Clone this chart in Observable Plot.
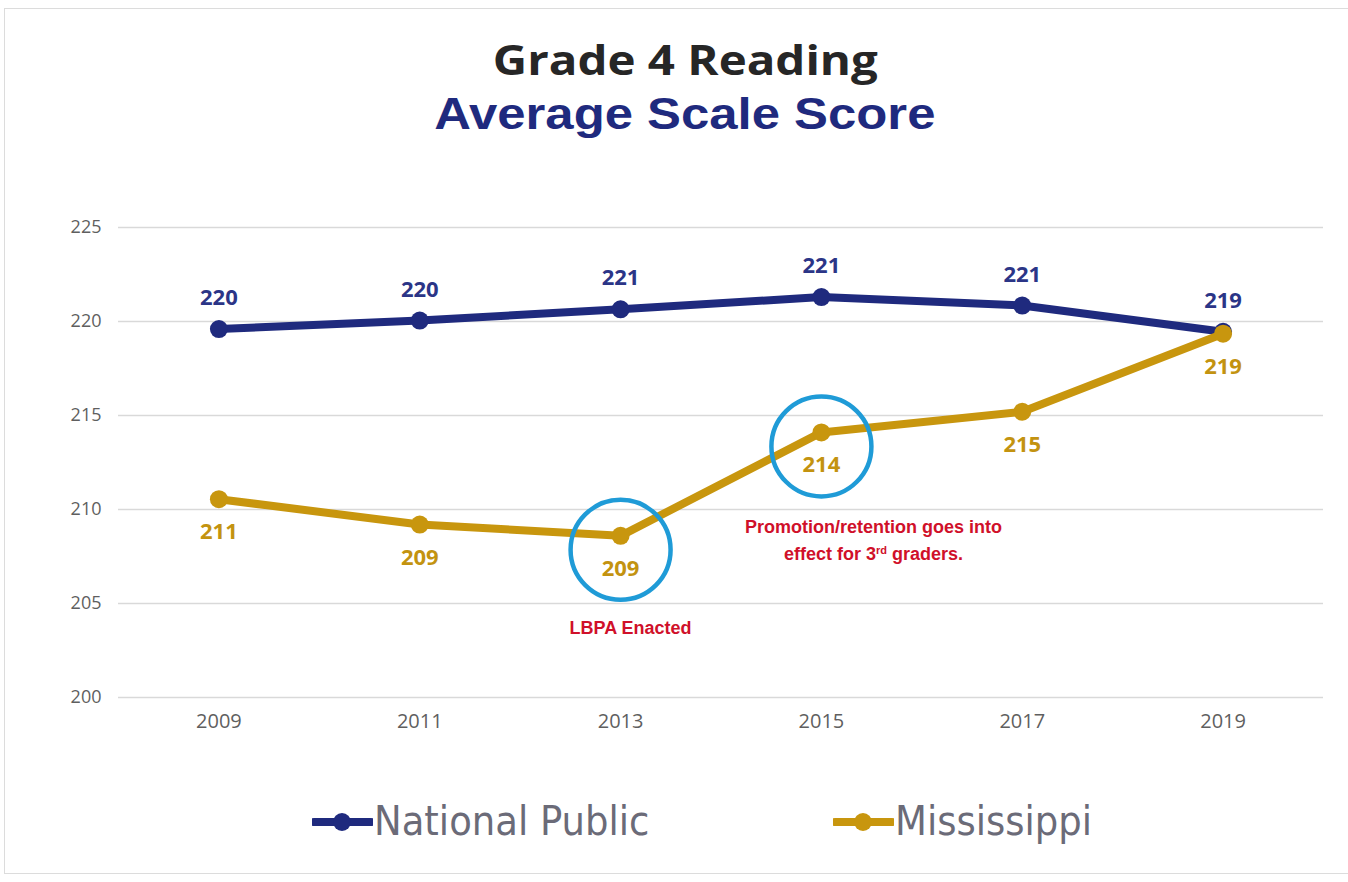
<!DOCTYPE html>
<html><head><meta charset="utf-8">
<script src="https://cdn.jsdelivr.net/npm/d3@7"></script>
<script src="https://cdn.jsdelivr.net/npm/@observablehq/plot@0.6"></script>
<style>
html,body{margin:0;padding:0;background:#fff;}
#wrap{position:relative;width:1348px;height:882px;overflow:hidden;background:#fff;}
#frame{position:absolute;left:4px;top:8px;width:1360px;height:866px;border:1.5px solid #dcdcdc;box-sizing:border-box;}
.t{position:absolute;left:0;width:1370px;text-align:center;font-weight:bold;white-space:nowrap;line-height:50px;}
.t span{display:inline-block;transform-origin:center;}
#title1{top:34px;font-family:"Open Sans",sans-serif;font-size:42px;color:#262626;}
#title1 span{transform:scaleX(1.13);}
#title2{top:89px;font-family:"Liberation Sans",Arial,sans-serif;font-size:45px;color:#1f2a7e;}
#title2 span{transform:scaleX(1.13);}
#chart{position:absolute;left:0;top:200px;}
.leg{position:absolute;top:798px;height:46px;display:flex;align-items:center;font-family:"DejaVu Sans",sans-serif;font-size:37px;color:#6b6b78;}
.leg span{display:inline-block;transform:scaleY(1.08);}
</style></head><body>
<div id="wrap">
 <div id="frame"></div>
 <div id="title1" class="t"><span>Grade 4 Reading</span></div>
 <div id="title2" class="t"><span>Average Scale Score</span></div>
 <div id="chart"></div>
</div>
<script>
const years = [2009, 2011, 2013, 2015, 2017, 2019];
const nationalPublic = [219.6, 220.05, 220.65, 221.3, 220.85, 219.45];
const mississippi = [210.55, 209.2, 208.6, 214.1, 215.2, 219.35];
const seriesNames = ["National Public", "Mississippi"];
const seriesColors = ["#1f2a7e", "#c8960e"];
const labelColors = ["#2b3587", "#c39310"];
const yTicks = [200, 205, 210, 215, 220, 225];
const highlightYears = [2013, 2015];
const annotationYears = [2013, 2015];
const annotationTexts = ["LBPA Enacted", "Promotion/retention goes into\neffect for 3rd graders."];

const natData = years.map((y, i) => ({year: y, value: nationalPublic[i], series: seriesNames[0]}));
const msData = years.map((y, i) => ({year: y, value: mississippi[i], series: seriesNames[1]}));
const highlights = msData.filter(d => highlightYears.includes(d.year));
const annotations = annotationYears.map((y, i) => ({year: y, value: mississippi[years.indexOf(y)], text: annotationTexts[i]}));

const ff = "'Open Sans', sans-serif";
const plot = Plot.plot({
  width: 1348,
  height: 560,
  marginLeft: 118,
  marginRight: 25,
  marginTop: 27,
  marginBottom: 63,
  style: {fontFamily: ff, background: "transparent"},
  x: {domain: [2008, 2020]},
  y: {domain: [200, 225]},
  color: {domain: seriesNames, range: seriesColors},
  marks: [
    Plot.ruleY(yTicks, {stroke: "#d9d9d9", strokeWidth: 1.3}),
    Plot.axisX(years, {tickSize: 0, tickPadding: 16, tickFormat: d => String(d), fontSize: 20, color: "#5f5f5f", label: null}),
    Plot.axisY(yTicks, {tickSize: 0, tickPadding: 17, fontSize: 18, color: "#5f5f5f", label: null}),
    Plot.line(natData, {x: "year", y: "value", stroke: "series", strokeWidth: 8, strokeLinejoin: "round"}),
    Plot.dot(natData, {x: "year", y: "value", fill: "series", r: 9}),
    Plot.line(msData, {x: "year", y: "value", stroke: "series", strokeWidth: 8, strokeLinejoin: "round"}),
    Plot.dot(msData, {x: "year", y: "value", fill: "series", r: 9}),
    Plot.text(natData, {x: "year", y: "value", text: d => String(Math.round(d.value)), dy: -31, fill: labelColors[0], fontSize: 22, fontWeight: "bold"}),
    Plot.text(msData, {x: "year", y: "value", text: d => String(Math.round(d.value)), dy: 33, fill: labelColors[1], fontSize: 22, fontWeight: "bold"}),
    Plot.dot(highlights, {x: "year", y: "value", r: 50, stroke: "#1f9bd7", strokeWidth: 4.5, fill: "none", dy: 14}),
    Plot.text(annotations.slice(0, 1), {x: "year", y: "value", text: "text", dx: 10, dy: 92, fill: "#d0102a", fontSize: 18, fontWeight: "bold", fontFamily: "'Liberation Sans', Arial, sans-serif"}),
    Plot.text(annotations.slice(1), {x: "year", y: "value", text: "text", dx: 52, dy: 105, lineHeight: 1.5, fill: "#d0102a", fontSize: 18, fontWeight: "bold", fontFamily: "'Liberation Sans', Arial, sans-serif"})
  ]
});
document.getElementById("chart").appendChild(plot);

// superscript "rd"
d3.select(plot).selectAll("tspan").each(function() {
  const t = this.textContent;
  if (t.includes("3rd")) {
    const parts = t.split("3rd");
    const el = d3.select(this);
    el.text(null);
    el.append("tspan").text(parts[0] + "3");
    el.append("tspan").attr("baseline-shift", "super").attr("font-size", 11).text("rd");
    el.append("tspan").text(parts[1]);
  }
});

// legend
const wrap = document.getElementById("wrap");
const legPos = [312, 833];
seriesNames.forEach((name, i) => {
  const div = document.createElement("div");
  div.className = "leg";
  div.style.left = legPos[i] + "px";
  const sw = d3.create("svg").attr("width", 61).attr("height", 46);
  sw.append("line").attr("x1", 2).attr("x2", 59).attr("y1", 24).attr("y2", 24).attr("stroke", seriesColors[i]).attr("stroke-width", 8).attr("stroke-linecap", "round");
  sw.append("circle").attr("cx", 30).attr("cy", 24).attr("r", 9).attr("fill", seriesColors[i]);
  div.appendChild(sw.node());
  const sp = document.createElement("span");
  sp.textContent = name;
  sp.style.marginLeft = "1px";
  div.appendChild(sp);
  wrap.appendChild(div);
});
</script>
</body></html>
